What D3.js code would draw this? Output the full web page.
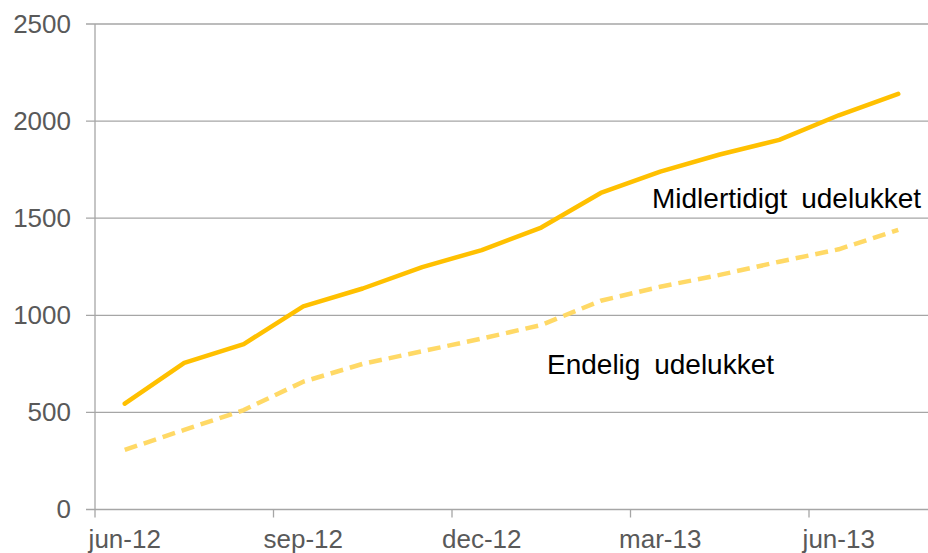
<!DOCTYPE html>
<html>
<head>
<meta charset="utf-8">
<script src="https://cdn.jsdelivr.net/npm/d3@7"></script>
<style>
  html, body { margin: 0; padding: 0; background: #fff; }
  svg { display: block; font-family: "Liberation Sans", Arial, sans-serif; }
</style>
</head>
<body>
<div id="chart"></div>
<script>
// Months on the category axis
const months = ['jun-12', 'jul-12', 'aug-12', 'sep-12', 'okt-12', 'nov-12', 'dec-12',
                'jan-13', 'feb-13', 'mar-13', 'apr-13', 'maj-13', 'jun-13', 'jul-13'];
// Labelled months (every third)
const tickMonths = ['jun-12', 'sep-12', 'dec-12', 'mar-13', 'jun-13'];
const yTicks = [0, 500, 1000, 1500, 2000, 2500];

// Series values
const midlertidigt = [545, 755, 852, 1046, 1138, 1248, 1336, 1452, 1630, 1740, 1828, 1903, 2030, 2140];
const endelig = [307, 410, 512, 658, 750, 815, 880, 950, 1075, 1147, 1208, 1276, 1340, 1440];

const width = 928, height = 553;
const plotLeft = 95, plotRight = 928, plotTop = 24, plotBottom = 509.5;

const svg = d3.select('#chart').append('svg')
    .attr('width', width)
    .attr('height', height);

const x = d3.scaleBand().domain(months).range([plotLeft, plotRight]).padding(0);
const y = d3.scaleLinear().domain([0, 2500]).range([plotBottom, plotTop]);

// Horizontal gridlines
svg.append('g')
    .selectAll('line')
    .data(yTicks)
    .join('line')
    .attr('x1', 86)
    .attr('x2', plotRight)
    .attr('y1', d => y(d))
    .attr('y2', d => y(d))
    .attr('stroke', '#a6a6a6')
    .attr('stroke-width', 1.3);

// Y axis line
svg.append('line')
    .attr('x1', plotLeft).attr('x2', plotLeft)
    .attr('y1', plotTop).attr('y2', plotBottom)
    .attr('stroke', '#a6a6a6')
    .attr('stroke-width', 1.3);

// Y tick labels
const yAxis = svg.append('g')
    .attr('transform', `translate(${plotLeft},0)`)
    .call(d3.axisLeft(y).tickValues(yTicks).tickFormat(d3.format('d')).tickSize(0).tickPadding(24));
yAxis.select('.domain').remove();
yAxis.selectAll('text')
    .attr('fill', '#595959')
    .attr('font-size', '26px')
    .attr('font-family', '"Liberation Sans", Arial, sans-serif');

// X tick marks at the start of each labelled quarter
svg.append('g')
    .selectAll('line')
    .data(tickMonths)
    .join('line')
    .attr('x1', d => x(d))
    .attr('x2', d => x(d))
    .attr('y1', plotBottom)
    .attr('y2', plotBottom + 8)
    .attr('stroke', '#a6a6a6')
    .attr('stroke-width', 1.3);

// X tick labels, centred on their month
const xAxis = svg.append('g')
    .attr('transform', `translate(0,${plotBottom})`)
    .call(d3.axisBottom(x).tickValues(tickMonths).tickSize(0).tickPadding(20));
xAxis.select('.domain').remove();
xAxis.selectAll('text')
    .attr('fill', '#595959')
    .attr('font-size', '26px')
    .attr('font-family', '"Liberation Sans", Arial, sans-serif');

const line = d3.line()
    .x((d, i) => x(months[i]) + x.bandwidth() / 2)
    .y(d => y(d));

// Endelig udelukket (dashed)
svg.append('path')
    .datum(endelig)
    .attr('d', line)
    .attr('fill', 'none')
    .attr('stroke', '#ffd966')
    .attr('stroke-width', 4.5)
    .attr('stroke-dasharray', '13,7')
    .attr('stroke-linejoin', 'round');

// Midlertidigt udelukket (solid)
svg.append('path')
    .datum(midlertidigt)
    .attr('d', line)
    .attr('fill', 'none')
    .attr('stroke', '#ffc000')
    .attr('stroke-width', 4.5)
    .attr('stroke-linejoin', 'round')
    .attr('stroke-linecap', 'round');

// Series labels
svg.append('text')
    .attr('x', 652)
    .attr('y', 208)
    .attr('font-size', '28px')
    .attr('word-spacing', '6px')
    .attr('fill', '#000')
    .text('Midlertidigt udelukket');

svg.append('text')
    .attr('x', 547)
    .attr('y', 374)
    .attr('font-size', '28px')
    .attr('word-spacing', '6px')
    .attr('fill', '#000')
    .text('Endelig udelukket');
</script>
</body>
</html>
